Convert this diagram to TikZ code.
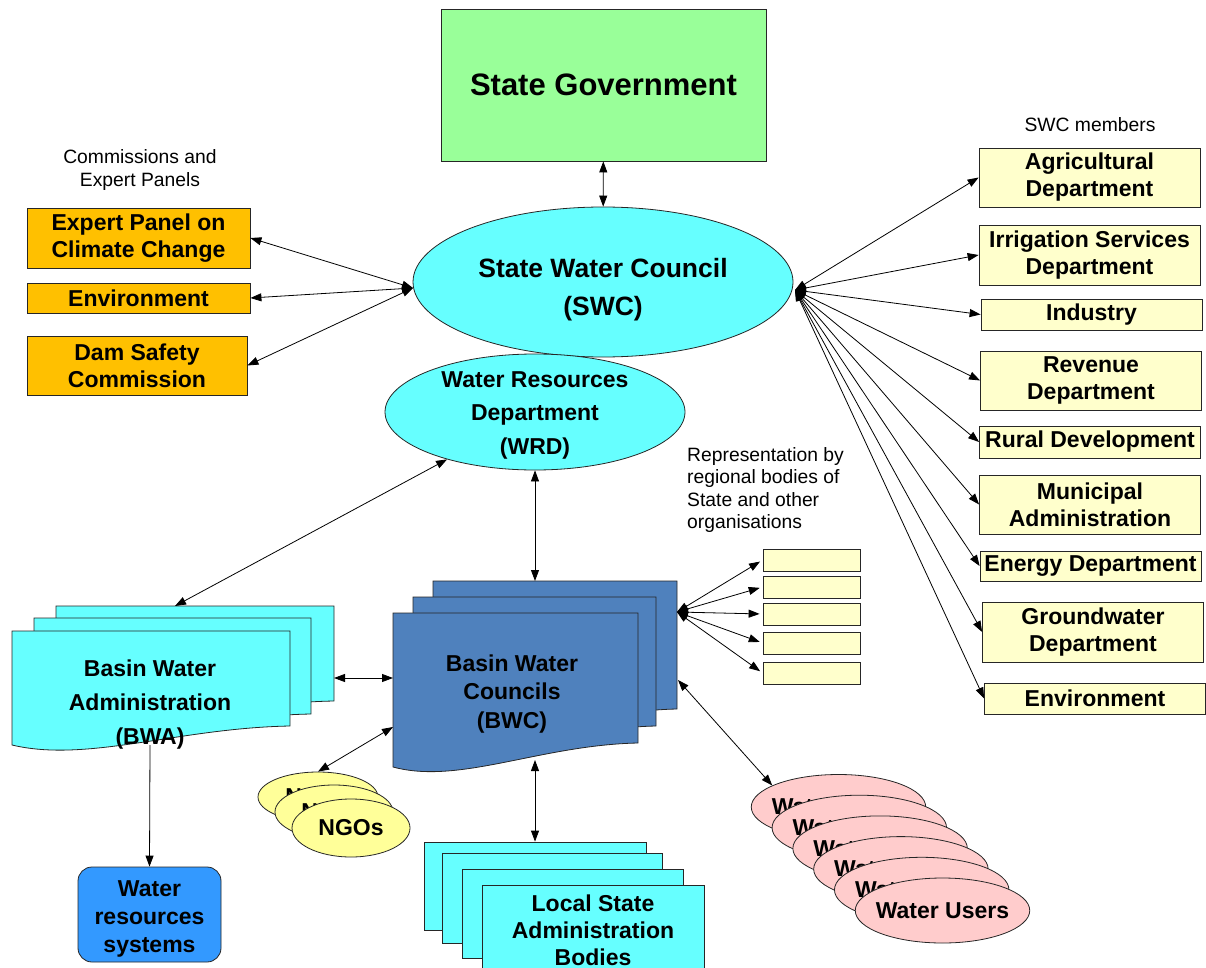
\documentclass[tikz,border=0pt]{standalone}
\usepackage{fontspec}
\setmainfont{Liberation Sans}
\usetikzlibrary{shapes.geometric}
\usetikzlibrary{arrows.meta}
\definecolor{govgreen}{HTML}{99FF99}
\definecolor{swccyan}{HTML}{66FFFF}
\definecolor{panelorange}{HTML}{FFC000}
\definecolor{memberyellow}{HTML}{FFFFCC}
\definecolor{bwcblue}{HTML}{4F81BD}
\definecolor{ngoyellow}{HTML}{FFFF99}
\definecolor{userpink}{HTML}{FFCCCC}
\definecolor{wrsblue}{HTML}{3399FF}
\tikzset{%
    box/.style={draw=black!85, line width=0.8pt, inner sep=0pt, align=center,
        font=\fontsize{23}{27}\selectfont\bfseries},
    govbox/.style={box, fill=govgreen, font=\fontsize{31}{34}\selectfont\bfseries},
    council/.style={box, ellipse, fill=swccyan},
    panel/.style={box, fill=panelorange},
    member/.style={box, fill=memberyellow, minimum width=221},
    repbox/.style={box, fill=memberyellow, minimum width=97, minimum height=22},
    ngo/.style={box, ellipse, fill=ngoyellow},
    usr/.style={box, ellipse, fill=userpink, inner xsep=-5pt, minimum width=170, minimum height=65},
    localbox/.style={box, fill=swccyan, minimum width=221, minimum height=89},
    note/.style={align=center, inner sep=0pt, font=\fontsize{19.3}{23.5}\selectfont},
    link/.style={line width=0.8pt}
}
% page with a wavy lower edge: x1, top, x2, lower left y, lower right y, fill
\newcommand{\docpage}[6]{%
    \draw[line width=0.8pt, draw=black!85, fill=#6] (#1,#2) -- (#3,#2) -- (#3,#5)
        .. controls ({#1+0.6*(#3-#1)},{#5+2}) and ({#1+0.27*(#3-#1)},{#4+18}) .. (#1,#4) -- cycle;
}

\begin{document}
\begin{tikzpicture}[x=1pt, y=-1pt, >={Triangle[length=11pt,width=8pt]}]
            \useasboundingbox (0,0) rectangle (1206,968);
            \clip (0,0) rectangle (1206,968);

            % government and the two councils
            \node[govbox, minimum width=325, minimum height=152] (gov) at (603.5,85) {State Government};
            \node[council, minimum width=380, minimum height=150] (swc) at (603,282) {};
            \node[box, draw=none, font=\fontsize{26.5}{38}\selectfont\bfseries] (swctxt) at (603,290)
                {State Water Council\\(SWC)};
            \node[council, minimum width=300, minimum height=116] (wrd) at (535,412) {};
            \node[box, draw=none, font=\fontsize{23}{33.5}\selectfont\bfseries] (wrdtxt) at (535,415)
                {Water Resources\\Department\\(WRD)};

            % commissions and expert panels
            \node[note] (cmtitle) at (140,170) {Commissions and\\Expert Panels};
            \node[panel, minimum width=223, minimum height=60] (epcc) at (138.5,238) {Expert Panel on\\Climate Change};
            \node[panel, minimum width=223, minimum height=30] (envl) at (138.5,298) {Environment};
            \node[panel, minimum width=220, minimum height=59] (dsc) at (137,365.5) {Dam Safety\\Commission};

            % SWC members
            \node[note] (swcm) at (1090,125) {SWC members};
            \node[member, minimum height=59] (agri) at (1089.5,177.5) {Agricultural\\Department};
            \node[member, minimum height=60] (irri) at (1089.5,255) {Irrigation Services\\Department};
            \node[member, minimum height=31] (indu) at (1091.5,314.5) {Industry};
            \node[member, minimum height=59] (reve) at (1091,380.5) {Revenue\\Department};
            \node[member, minimum height=32] (rura) at (1090,442) {Rural Development};
            \node[member, minimum height=59] (muni) at (1090,504.5) {Municipal\\Administration};
            \node[member, minimum height=30] (ener) at (1090.5,566) {Energy Department};
            \node[member, minimum height=60] (grou) at (1093,632) {Groundwater\\Department};
            \node[member, minimum height=31] (envr) at (1095,698.5) {Environment};

            % regional representation
            \node[note, align=left, anchor=north west, font=\fontsize{19.3}{22.5}\selectfont] (reptxt) at (687,447)
                {Representation by\\regional bodies of\\State and other\\organisations};
            \foreach \y [count=\i] in {560,587,614,643,673}
                \node[repbox] (rep\i) at (811.5,\y) {};

            % basin water administration
            \docpage{56}{606}{334}{720}{701}{swccyan}
            \docpage{34}{618}{311}{733}{714}{swccyan}
            \docpage{12}{631}{290}{745}{726}{swccyan}
            \node[box, draw=none, font=\fontsize{23}{34}\selectfont\bfseries] (bwa) at (150,705)
                {Basin Water\\Administration\\(BWA)};

            % basin water councils
            \docpage{433}{581}{677}{733}{709}{bwcblue}
            \docpage{413}{597}{656}{750}{726}{bwcblue}
            \docpage{393}{613}{638}{767}{743}{bwcblue}
            \node[box, draw=none, font=\fontsize{23}{28.5}\selectfont\bfseries] (bwc) at (512,694)
                {Basin Water\\Councils\\(BWC)};

            % NGOs
            \node[ngo, minimum width=120, minimum height=50] (ngo1) at (318,797) {NGOs};
            \node[ngo, minimum width=118, minimum height=54] (ngo2) at (334,812) {NGOs};
            \node[ngo, minimum width=118, minimum height=58] (ngo3) at (351,828) {NGOs};

            % water users
            \foreach \i in {0,...,5}
                \node[usr] (wu\i) at ({838.5+20.8*\i},{807+20.7*\i}) {Water Users};

            % local state administration bodies
            \node[localbox, minimum width=222, minimum height=88] (lsb1) at (535,886) {};
            \node[localbox, minimum width=220, minimum height=90] (lsb2) at (552,898) {};
            \node[localbox] (lsb3) at (572.5,913.5) {};
            \node[localbox, minimum width=222, minimum height=90] (lsb4) at (593,930) {Local State\\Administration\\Bodies};

            % water resources systems
            \node[box, fill=wrsblue, rounded corners=14, minimum width=143, minimum height=95,
                font=\fontsize{23}{28}\selectfont\bfseries] (wrs) at (149.5,914.5) {\rule{0pt}{24pt}Water\\resources\\systems};

            % connectors
            \coordinate (swcL) at (413,288);
            \coordinate (swcR) at (795,290);
            \coordinate (bwaTop) at (175,606);
            \coordinate (bwaR) at (334,678);
            \coordinate (bwaBot) at (150,745);
            \coordinate (bwcTop) at (535,581);
            \coordinate (bwcL) at (393,678);
            \coordinate (bwcL2) at (393,727);
            \coordinate (bwcBot) at (535,760);
            \coordinate (bwcR) at (677,612);
            \coordinate (bwcR2) at (678,680);

            \draw[link, <->] (gov) -- (swc);
            \draw[link, <->] (epcc.east) -- (swcL);
            \draw[link, <->] (envl.east) -- (swcL);
            \draw[link, <->] (dsc.east) -- (swcL);
            \foreach \m in {agri,irri,indu,reve,rura,muni,ener,grou,envr}
                \draw[link, <->] (swcR) -- (\m.west);
            \draw[link, <->] (wrd) -- (bwaTop);
            \draw[link, <->] (wrd.south) -- (bwcTop);
            \draw[link, <->] (bwaR) -- (bwcL);
            \draw[link, ->] (bwaBot) -- (wrs.north);
            \draw[link, <->] (bwcL2) -- (ngo1.north);
            \draw[link, <->] (bwcBot) -- (lsb1.north);
            \foreach \i in {1,...,5}
                \draw[link, <->, shorten >=3pt] (bwcR) -- (rep\i.west);
            \draw[link, <->] (bwcR2) -- (wu0.162);
\end{tikzpicture}
\end{document}
